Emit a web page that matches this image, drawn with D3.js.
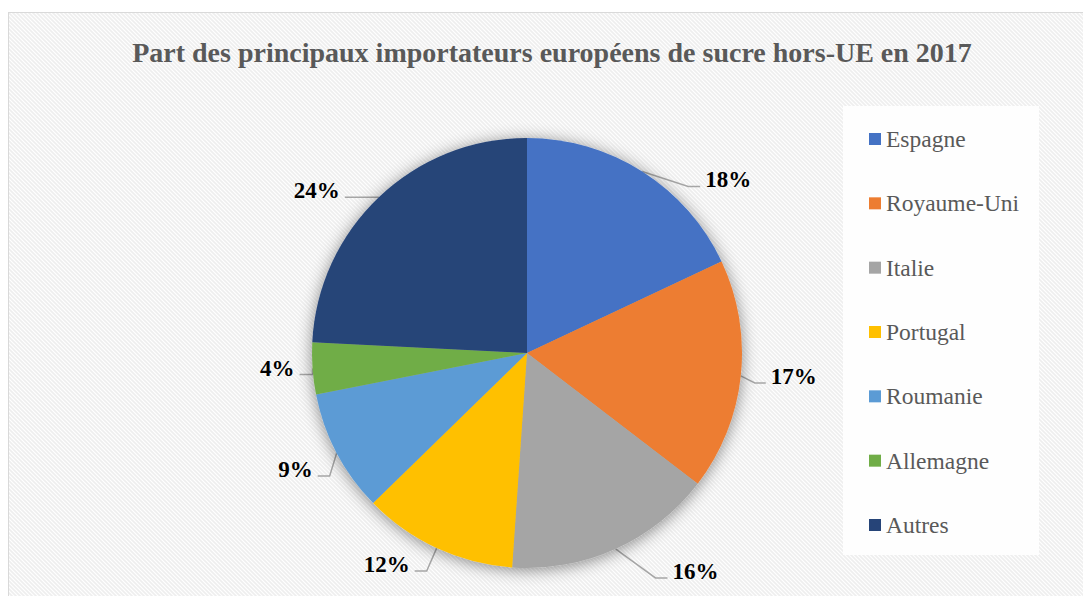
<!DOCTYPE html>
<html>
<head>
<meta charset="utf-8">
<script src="https://cdn.jsdelivr.net/npm/d3@7"></script>
<style>
  body { margin: 0; background: #fff; }
  svg { display: block; }
  text { font-family: 'Liberation Serif', 'Times New Roman', 'DejaVu Serif', serif; }
</style>
</head>
<body>
<svg id="chart" width="1083" height="596"></svg>
<script>
// Data
const countries = ["Espagne", "Royaume-Uni", "Italie", "Portugal", "Roumanie", "Allemagne", "Autres"];
const shares = [18, 17.4, 15.7, 11.6, 9.2, 3.9, 24.2];
const labels = ["18%", "17%", "16%", "12%", "9%", "4%", "24%"];
const colors = ["#4472C4", "#ED7D31", "#A5A5A5", "#FFC000", "#5B9BD5", "#70AD47", "#264478"];

// leader elbow offsets from slice edge point, and horizontal tail length
const leaders = [
  { ex: 46, ey: 15, h: 12 },
  { ex: 14, ey: 7, h: 11 },
  { ex: 40, ey: 29, h: 12 },
  { ex: -10, ey: 23, h: -12 },
  { ex: -7, ey: 23, h: -12 },
  { ex: 0, ey: 6, h: -13 },
  { ex: 0, ey: 0, h: -34 }
];

const svg = d3.select("#chart");
const W = 1083, H = 596;
const cx = 527, cy = 353, r = 215;

const defs = svg.append("defs");
const pat = defs.append("pattern")
  .attr("id", "hatch")
  .attr("patternUnits", "userSpaceOnUse")
  .attr("width", 4).attr("height", 4);
pat.append("rect").attr("width", 4).attr("height", 4).attr("fill", "#ffffff");
pat.append("path")
  .attr("d", "M-1,-1 L5,5 M-1,3 L1,5 M3,-1 L5,1")
  .attr("stroke", "#eeeeee").attr("stroke-width", 1.6);

const shadow = defs.append("filter").attr("id", "shadow")
  .attr("x", "-20%").attr("y", "-20%").attr("width", "140%").attr("height", "140%");
shadow.append("feDropShadow")
  .attr("dx", 0).attr("dy", 2).attr("stdDeviation", 8)
  .attr("flood-color", "#000").attr("flood-opacity", 0.45);

// chart area with border
svg.append("rect")
  .attr("x", 8.5).attr("y", 12.5)
  .attr("width", W).attr("height", H)
  .attr("fill", "url(#hatch)")
  .attr("stroke", "#d9d9d9").attr("stroke-width", 1);

svg.append("text")
  .attr("x", 552).attr("y", 62)
  .attr("text-anchor", "middle")
  .attr("font-weight", "bold")
  .attr("font-size", 28)
  .attr("fill", "#595959")
  .text("Part des principaux importateurs européens de sucre hors-UE en 2017");

const pie = d3.pie().sort(null).value(d => d);
const arcs = pie(shares);
const arc = d3.arc().innerRadius(0).outerRadius(r);

const g = svg.append("g").attr("transform", `translate(${cx},${cy})`);

// leader lines (drawn under slices)
const lineG = g.append("g");
arcs.forEach((a, i) => {
  const mid = (a.startAngle + a.endAngle) / 2;
  const px = r * Math.sin(mid), py = -r * Math.cos(mid);
  const L = leaders[i];
  const bx = px + L.ex, by = py + L.ey;
  lineG.append("path")
    .attr("d", d3.line()([[px, py], [bx, by], [bx + L.h, by]]))
    .attr("fill", "none")
    .attr("stroke", "#a6a6a6")
    .attr("stroke-width", 1.5);
  g.append("text")
    .attr("x", bx + L.h + (L.h > 0 ? 5 : -5))
    .attr("y", by + 1)
    .attr("text-anchor", L.h > 0 ? "start" : "end")
    .attr("font-weight", "bold")
    .attr("font-size", 23)
    .attr("fill", "#000")
    .text(labels[i]);
});

g.append("g").attr("filter", "url(#shadow)")
  .selectAll("path")
  .data(arcs)
  .join("path")
  .attr("d", arc)
  .attr("fill", (d, i) => colors[i]);

// legend
const lg = svg.append("g");
lg.append("rect")
  .attr("x", 843).attr("y", 106)
  .attr("width", 196).attr("height", 449)
  .attr("fill", "#fefefe");

const ly = d3.scalePoint().domain(countries).range([139, 525]);
const items = lg.selectAll("g.item").data(countries).join("g")
  .attr("class", "item")
  .attr("transform", d => `translate(869,${ly(d)})`);
items.append("rect")
  .attr("x", 0).attr("y", -6)
  .attr("width", 12).attr("height", 12)
  .attr("fill", (d, i) => colors[i]);
items.append("text")
  .attr("x", 17).attr("y", 8)
  .attr("font-size", 23.5)
  .attr("fill", "#595959")
  .text(d => d);
</script>
</body>
</html>
